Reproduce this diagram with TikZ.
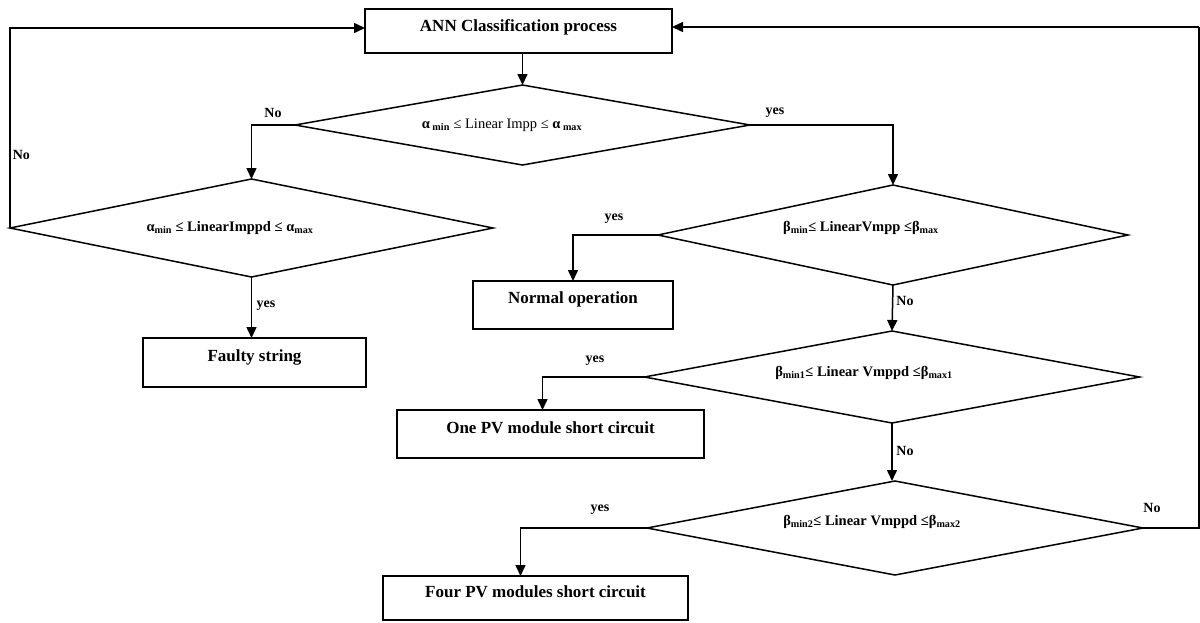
\documentclass[tikz,border=0pt]{standalone}
\usepackage{fontspec}
\setmainfont{Liberation Serif}
\usetikzlibrary{shapes.geometric,arrows.meta}
\begin{document}
\begin{tikzpicture}[x=1pt,y=-1pt,line width=1.5pt,
  box/.style={draw,rectangle,inner sep=0pt,outer sep=0pt},
  dia/.style={draw,diamond,inner sep=0pt,outer sep=0pt,aspect=1},
  boxtext/.style={inner sep=0pt,font=\fontsize{17}{19}\selectfont\bfseries},
  diatext/.style={inner sep=0pt,font=\fontsize{14.5}{16}\selectfont\bfseries},
  lbl/.style={inner sep=0pt,font=\fontsize{14}{16}\selectfont\bfseries},
  arr/.style={-{Triangle[length=11pt,width=10pt]}}]
\useasboundingbox (0,0) rectangle (1200,622);
% boxes
\node[box,minimum width=307pt,minimum height=44pt] (ann) at (518.5,31) {};
\node[boxtext] (anntxt) at (518.5,27) {ANN Classification process};
\node[box,minimum width=223pt,minimum height=49pt] (faulty) at (254.5,362.5) {};
\node[boxtext] (faultytxt) at (254.5,357) {Faulty string};
\node[box,minimum width=200pt,minimum height=48pt] (normal) at (573,305) {};
\node[boxtext] (normaltxt) at (573,299) {Normal operation};
\node[box,minimum width=307pt,minimum height=48pt] (one) at (550.5,434) {};
\node[boxtext] (onetxt) at (550.5,428) {One PV module short circuit};
\node[box,minimum width=305pt,minimum height=44pt] (four) at (535.5,598) {};
\node[boxtext] (fourtxt) at (535.5,592) {Four PV modules short circuit};
% diamonds
\node[dia,minimum width=455pt,minimum height=80pt] (d1) at (522.5,125) {};
\node[diatext] (d1t) at (502,125) {α\textsubscript{ min} {\mdseries ≤ Linear Impp ≤} α\textsubscript{ max}};
\node[dia,minimum width=483pt,minimum height=98pt] (d2) at (251.5,228) {};
\node[diatext] (d2t) at (230,228) {α\textsubscript{min} ≤ LinearImppd ≤ α\textsubscript{max}};
\node[dia,minimum width=470pt,minimum height=100pt] (d3) at (893,235) {};
\node[diatext] (d3t) at (861,228) {β\textsubscript{min}≤ LinearVmpp ≤β\textsubscript{max}};
\node[dia,minimum width=495pt,minimum height=92pt] (d4) at (892,377) {};
\node[diatext] (d4t) at (864,373) {β\textsubscript{min1}≤ Linear Vmppd ≤β\textsubscript{max1}};
\node[dia,minimum width=496pt,minimum height=94pt] (d5) at (895,528) {};
\node[diatext] (d5t) at (872,522) {β\textsubscript{min2}≤ Linear Vmppd ≤β\textsubscript{max2}};
% connectors
\coordinate (rc) at (1199,27);
\draw[arr] (d1.north |- ann.south) -- (d1.north);
\draw[arr] (d1.west) -| (d2.north);
\draw[arr] (d2.west) |- ([yshift=3pt]ann.west);
\draw[arr] (d2.south) -- (d2.south |- faulty.north);
\draw[arr] (d1.east) -| (d3.north);
\draw[arr] (d3.west) -| (normal.north);
\draw[arr] (d3.south) -- (d4.north);
\draw[arr] (d4.west) -| ([xshift=-8pt]one.north);
\draw[arr] (d4.south) -- (d4.south |- d5.north);
\draw[arr] (d5.west) -| ([xshift=-15pt]four.north);
\draw (d5.east) -| (rc);
\draw[arr] (rc) -- ([yshift=4pt]ann.east);
% labels
\node[lbl] (l1) at (273,113) {No};
\node[lbl,anchor=west] (l2) at (12,155) {No};
\node[lbl] (l3) at (266,306) {yes};
\node[lbl] (l4) at (775,113) {yes};
\node[lbl] (l5) at (614,219) {yes};
\node[lbl] (l6) at (905,301) {No};
\node[lbl] (l7) at (595,361) {yes};
\node[lbl] (l8) at (905,451) {No};
\node[lbl] (l9) at (600,510) {yes};
\node[lbl] (l10) at (1152,508) {No};
\end{tikzpicture}
\end{document}
